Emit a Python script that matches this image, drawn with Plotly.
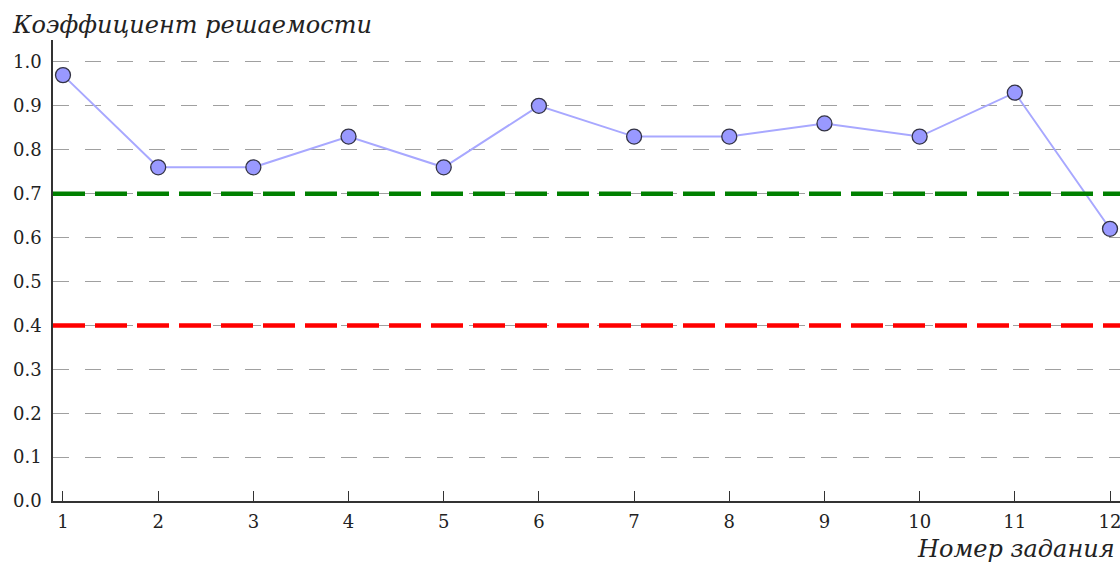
import plotly.graph_objects as go

tasks = list(range(1, 13))
solve_rate = [0.97, 0.76, 0.76, 0.83, 0.76, 0.90, 0.83, 0.83, 0.86, 0.83, 0.93, 0.62]
upper_level = 0.7
lower_level = 0.4
y_ticks = [0.0, 0.1, 0.2, 0.3, 0.4, 0.5, 0.6, 0.7, 0.8, 0.9, 1.0]

font = "DejaVu Serif"

fig = go.Figure()

# threshold lines (thick, long dashes)
fig.add_hline(y=upper_level, line=dict(color="green", width=4.5, dash="32px,10px"), layer="above")
fig.add_hline(y=lower_level, line=dict(color="red", width=4.5, dash="32px,10px"), layer="above")

fig.add_trace(go.Scatter(
    x=tasks, y=solve_rate, mode="lines+markers",
    line=dict(color="#a8a8ff", width=2),
    marker=dict(size=15, color="#9999ff", line=dict(color="#333344", width=1.3)),
    showlegend=False, cliponaxis=False,
))

fig.update_layout(
    width=1120, height=562,
    margin=dict(l=53, r=0, t=40, b=61),
    plot_bgcolor="white", paper_bgcolor="white",
    font=dict(family=font, size=18, color="#222"),
)
fig.update_xaxes(
    range=[0.895, 12.105], tickvals=tasks, showgrid=False, zeroline=False,
    showline=True, linecolor="#333", linewidth=1.5,
    ticks="inside", ticklen=10, tickcolor="#333", tickwidth=1.3,
    ticklabelstandoff=4, automargin=False, ticklabeloverflow="allow",
)
fig.update_yaxes(
    range=[0, 1.05], tickvals=y_ticks, tickformat=".1f",
    showgrid=True, gridcolor="#a0a0a0", griddash="16px,16px", gridwidth=1.2,
    zeroline=False, showline=True, linecolor="#333", linewidth=1.5,
    ticks="", ticklabelstandoff=6, automargin=False,
)

fig.add_annotation(text="<i>Коэффициент решаемости</i>", xref="paper", yref="paper",
                   x=-0.0403, y=1, yshift=15, xanchor="left", yanchor="middle", showarrow=False,
                   font=dict(family=font, size=24, color="#222"))
fig.add_annotation(text="<i>Номер задания</i>", xref="paper", yref="paper",
                   x=1.0, y=0, xshift=-3, yshift=-48, xanchor="right", yanchor="middle", showarrow=False,
                   font=dict(family=font, size=24, color="#222"))

# drop the default page margin so the figure fills the window exactly
fig.write_html("out.html", config={"displayModeBar": False},
               post_script="document.body.style.margin='0';")
